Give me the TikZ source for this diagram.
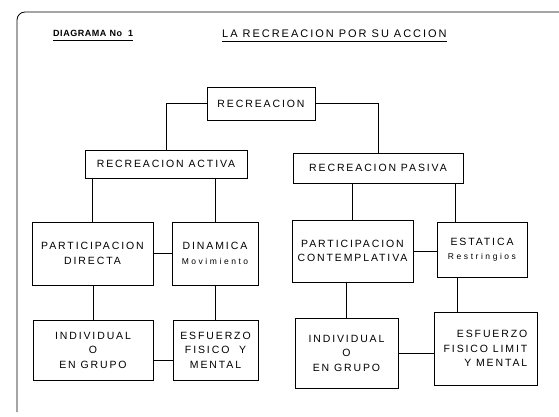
\documentclass[tikz,border=0pt]{standalone}
\usepackage{fontspec}
\newfontfamily\boxfont[LetterSpace=18]{Liberation Sans}
\newfontfamily\numfont[LetterSpace=6]{Liberation Sans}
\newfontfamily\lowfont[LetterSpace=30]{Liberation Sans}
\newcommand{\lowtext}[1]{{\lowfont\fontsize{8.5}{10}\selectfont #1}}
\tikzset{wire/.style={line width=0.8pt}}
\tikzset{box/.style 2 args={draw, line width=0.9pt, minimum width=#1pt, minimum height=#2pt, inner sep=0pt, align=center, font=\boxfont\fontsize{10.5}{14.5}\selectfont}}
\tikzset{heading/.style={anchor=base west, inner sep=0pt, font=\boxfont\fontsize{11}{13}\selectfont}}
\tikzset{underline/.style={line width=0.9pt}}

\begin{document}
\begin{tikzpicture}[x=1pt,y=-1pt]
\useasboundingbox (0,0) rectangle (559,417);
% frame
\draw[wire, rounded corners=8] (17,412) -- (17,12) -- (559,12);
% headings
\node[heading, font=\numfont\bfseries\fontsize{9}{11}\selectfont] (num) at (53,37) {DIAGRAMA No\ \ 1};
\node[heading] (ttl) at (222,38) {LA RECREACION POR SU ACCION};
\draw[underline] ([yshift=-3pt]num.base west) -- ([yshift=-3pt]num.base east);
\draw[underline] ([yshift=-3pt]ttl.base west) -- ([yshift=-3pt]ttl.base east);
% boxes
\node[box={108}{33}] (rec) at (261,103.5) {RECREACION};
\node[box={162}{28}] (act) at (166,164) {RECREACION ACTIVA};
\node[box={170}{30}] (pas) at (378,168) {RECREACION PASIVA};
\node[box={121}{63}] (pdir) at (92.5,253.5) {PARTICIPACION\\DIRECTA};
\node[box={86}{63}] (din) at (215,253.5) {DINAMICA\\\lowtext{Movimiento}};
\node[box={121}{62}] (pcon) at (352.5,251) {PARTICIPACION\\CONTEMPLATIVA};
\node[box={90}{55}] (est) at (482,249.5) {ESTATICA\\\lowtext{Restringios}};
\node[box={120}{60}] (ind1) at (93,350) {INDIVIDUAL\\O\\EN GRUPO};
\node[box={85}{60}] (esf1) at (215.5,350) {ESFUERZO\\FISICO\ \ Y\\MENTAL};
\node[box={103}{70}] (ind2) at (346.5,353) {INDIVIDUAL\\O\\EN GRUPO};
\node[box={103}{73}, align=right] (esf2) at (485.5,348.5) {ESFUERZO\\FISICO LIMIT\\Y MENTAL};
% connectors
\draw[wire] (rec.west) -| (act.north);
\draw[wire] (rec.east) -| (pas.north);
\draw[wire] (pdir.north |- act.south) -- (pdir.north);
\draw[wire] (din.north |- act.south) -- (din.north);
\draw[wire] (pcon.north |- pas.south) -- (pcon.north);
\draw[wire] ([xshift=-27pt]est.north |- pas.south) -- ([xshift=-27pt]est.north);
\draw[wire] (pdir.east) -- (pdir.east -| din.west);
\draw[wire] (pcon.east) -- (pcon.east -| est.west);
\draw[wire] (ind1.north |- pdir.south) -- (ind1.north);
\draw[wire] (esf1.north |- din.south) -- (esf1.north);
\draw[wire] ([yshift=-10pt]ind1.east) -- ([yshift=-10pt]ind1.east -| esf1.west);
\draw[wire] (ind2.north |- pcon.south) -- (ind2.north);
\draw[wire] ([xshift=-28pt]esf2.north |- est.south) -- ([xshift=-28pt]esf2.north);
\draw[wire] (ind2.east) -- (ind2.east -| esf2.west);
\end{tikzpicture}
\end{document}
